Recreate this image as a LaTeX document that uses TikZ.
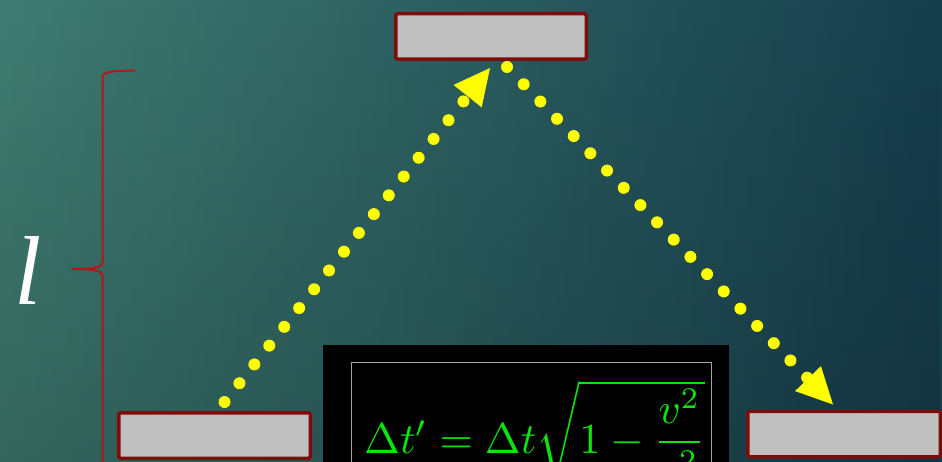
\documentclass[tikz,border=0pt]{standalone}
\usepackage{fontspec}
\setmainfont{Liberation Serif}
\usepackage{graphicx}
\usepackage{tikz}
\usetikzlibrary{positioning, arrows.meta, calc, fadings}
\definecolor{bgL}{HTML}{3F7C71}
\definecolor{bgR}{HTML}{163E4D}
\definecolor{mirror}{HTML}{C0C0C0}
\definecolor{mirroredge}{HTML}{7E0C0C}
\definecolor{photon}{HTML}{FFFF00}
\definecolor{bracered}{HTML}{B3161B}
\definecolor{eqgreen}{HTML}{0AE60A}
\begin{document}
\begin{tikzpicture}[x=1pt, y=-1pt,
    mirrorbox/.style={
      draw=mirroredge, fill=mirror, line width=3.5pt,
      rounded corners=1.5pt, minimum height=45.5pt, inner sep=0pt
    },
    photonpath/.style={
      photon, line width=12pt, line cap=round, dash pattern=on 0pt off 24pt,
      -{Triangle[length=36pt 0 0, width=36pt 0 0, line width=0pt 0 0]}
    },
    brace/.style={bracered, line width=2pt}
]
  \clip (0,0) rectangle (942,462);
  \shade[left color=bgL, right color=bgR] (0,0) rectangle (942,462);
  \fill[black, opacity=0.18, path fading=north] (0,0) rectangle (942,462);

  % mirrors
  \node[mirrorbox, minimum width=190.5pt] (top) at (491,36.5) {};
  \node[mirrorbox, minimum width=191.5pt] (left) at (214.5,435.5) {};
  \node[mirrorbox, minimum width=192.5pt] (right) at (844,434) {};

  % light path
  \draw[photonpath] ([shift={(10pt,9pt)}]left.north) -- ([shift={(-1pt,-7pt)}]top.south);
  \draw[photonpath] ([shift={(16pt,-6pt)}]top.south) -- ([shift={(-11pt,5pt)}]right.north);

  % length brace
  \draw[brace] (135,70.5) .. controls (110,71) and (102.5,71.5) .. (102.5,78)
    -- (102.5,262) .. controls (102.5,268) and (92,269) .. (72,269)
    .. controls (92,269) and (102.5,270) .. (102.5,276) -- (102.5,460)
    .. controls (102.5,466.5) and (110,467) .. (135,467.5);
  \node[white, anchor=base, inner sep=0pt, font=\fontsize{98}{98}\selectfont\itshape] (len) at (28,305) {l};

  % formula
  \fill[black] (323,345) rectangle (729,500);
  \draw[gray!70, line width=1pt] (351,362) rectangle (711,520);
  \node[eqgreen, anchor=base west, inner sep=0pt] (dilation) at (364,453)
    {\scalebox{4.3}{$\Delta t' = \Delta t\sqrt{1-{\displaystyle\frac{v^2}{c^2}}\vphantom{\Big(}}$}};
\end{tikzpicture}
\end{document}
